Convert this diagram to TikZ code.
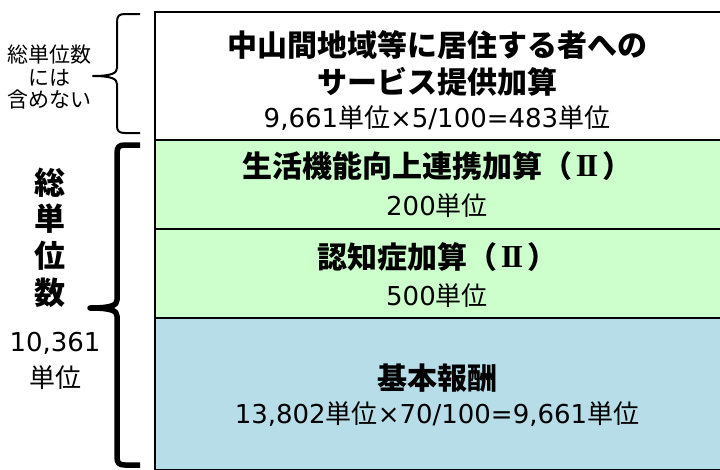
\documentclass[tikz,border=0pt]{standalone}
\usepackage{fontspec}
\newfontfamily\jp{Noto Sans CJK JP}
\newfontfamily\dv{DejaVu Sans}
\newfontfamily\lserif{Liberation Serif}
\newcommand\dd[1]{{\dv #1}}
\newcommand\romtwo{\makebox[1em]{\raisebox{1pt}{\lserif\bfseries\fontsize{32}{32}\selectfont I\kern-2.5pt I}}}
\definecolor{boxgreen}{HTML}{CCFFCC}
\definecolor{boxblue}{HTML}{B7DDE8}
\begin{document}
\begin{tikzpicture}[x=1pt,y=-1pt,
  boxline/.style={draw=black, line width=2.5pt},
  titletext/.style={font=\jp\bfseries\fontsize{30}{32}\selectfont, inner sep=0pt},
  subtext/.style={font=\jp\fontsize{26}{28}\selectfont, inner sep=0pt},
  smalltext/.style={font=\jp\fontsize{21}{23}\selectfont, inner sep=0pt},
  bigtext/.style={font=\jp\bfseries\fontsize{31}{33}\selectfont, inner sep=0pt},
  midtext/.style={font=\jp\fontsize{26}{28}\selectfont, inner sep=0pt},
  thinbrace/.style={draw=black, line width=2pt, line join=round},
  thickbrace/.style={draw=black, line width=5.5pt, line join=round}]
\useasboundingbox (0,0) rectangle (720,469);
\fill[white] (0,0) rectangle (720,469);
% boxes
\draw[boxline, fill=white] (155,12) rectangle (724,140);
\draw[boxline, fill=boxgreen] (155,140) rectangle (724,229);
\draw[boxline, fill=boxgreen] (155,229) rectangle (724,318);
\draw[boxline, fill=boxblue] (155,318) rectangle (724,469.8);
% box texts
\node[titletext] (t1a) at (437,45) {中山間地域等に居住する者への};
\node[titletext] (t1b) at (437,82) {サービス提供加算};
\node[subtext] (t1c) at (437,118) {\dd{9,661}単位\dd{×5/100=483}単位};
\node[titletext] (t2a) at (437,166) {生活機能向上連携加算（\romtwo）};
\node[subtext] (t2b) at (437,206) {\dd{200}単位};
\node[titletext] (t3a) at (437,257) {認知症加算（\romtwo）};
\node[subtext] (t3b) at (437,296) {\dd{500}単位};
\node[titletext] (t4a) at (437,378) {基本報酬};
\node[subtext] (t4b) at (437,414) {\dd{13,802}単位\dd{×70/100=9,661}単位};
% left texts
\node[smalltext] (n1) at (50,55) {総単位数};
\node[smalltext] (n2) at (49,78) {には};
\node[smalltext] (n3) at (50,100) {含めない};
\node[bigtext] (v1) at (50,183) {総};
\node[bigtext] (v2) at (50,219) {単};
\node[bigtext] (v3) at (50,256) {位};
\node[bigtext] (v4) at (50,293) {数};
\node[midtext] (m1) at (55,343) {\dd{10,361}};
\node[midtext] (m2) at (55,378) {単位};
% braces
\draw[thinbrace] (140,14) -- (125,14) .. controls (119,14) and (117,16) .. (117,22)
  -- (117,68) .. controls (117,73) and (112,76) .. (93,76)
  .. controls (112,76) and (117,79) .. (117,84)
  -- (117,126) .. controls (117,131) and (119,133) .. (125,133) -- (140,133);
\draw[thickbrace] (140,145) -- (125,145) .. controls (119,145) and (117,147) .. (117,153)
  -- (117,300) .. controls (117,305) and (112,308) .. (90,308)
  .. controls (112,308) and (117,311) .. (117,316)
  -- (117,457) .. controls (117,463) and (119,465) .. (125,465) -- (140,465);
\end{tikzpicture}
\end{document}
